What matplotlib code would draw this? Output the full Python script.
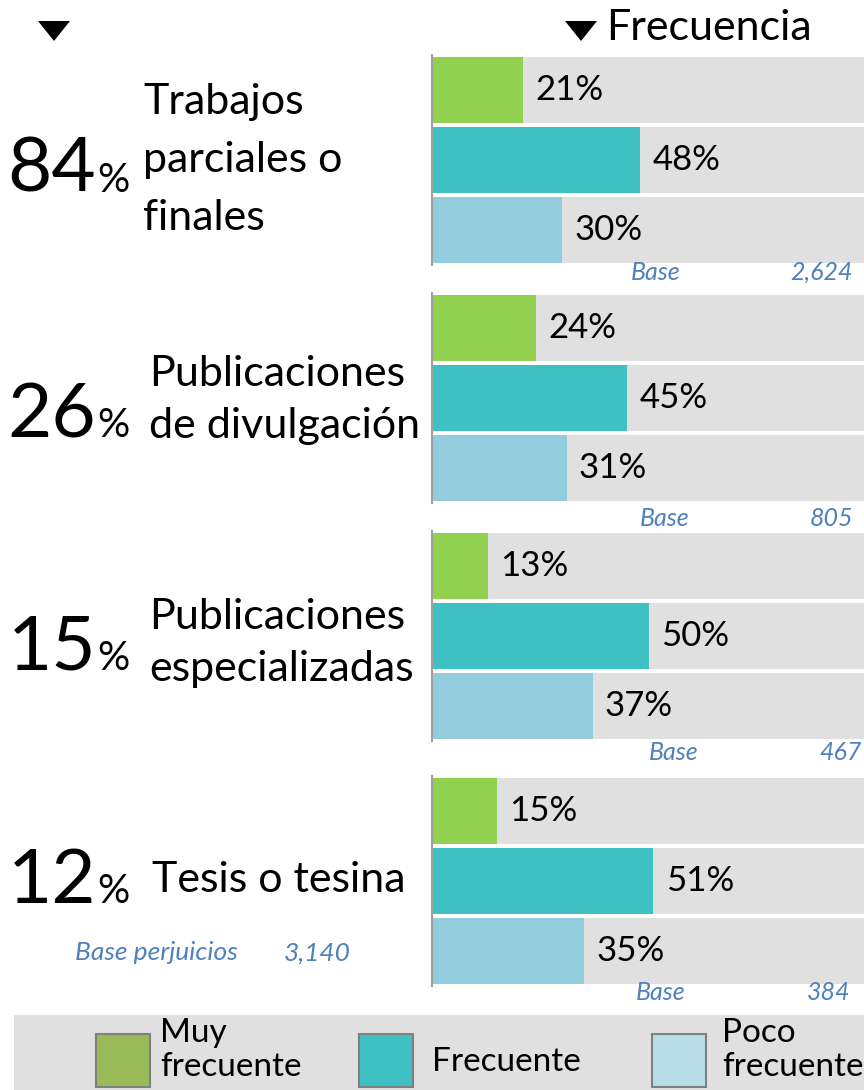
import numpy as np
import matplotlib.pyplot as plt
from matplotlib.patches import Rectangle, Polygon

plt.rcParams['font.family'] = ['Lato', 'DejaVu Sans']

# datos
categorias = [['Trabajos', 'parciales o', 'finales'],
              ['Publicaciones', 'de divulgación'],
              ['Publicaciones', 'especializadas'],
              ['Tesis o tesina']]
totales = [84, 26, 15, 12]
muy_frecuente = [21, 24, 13, 15]
frecuente = [48, 45, 50, 51]
poco_frecuente = [30, 31, 37, 35]
bases = ['2,624', '805', '467', '384']
base_perjuicios = '3,140'
series_nombres = ['Muy\nfrecuente', 'Frecuente', 'Poco\nfrecuente']

col_bar = ['#92d050', '#3fc0c2', '#93ccdd']
col_ley = ['#9bbb59', '#3fc0c2', '#b7dde8']
gris = '#e0e0e0'
azul = '#4f81bd'

W, H = 864, 1090
fig = plt.figure(figsize=(W / 100, H / 100), dpi=100)

def fx(x):
    return x / W

def fy(y):
    return 1 - y / H

# posiciones de los paneles (pixeles)
panel_top = [55, 293, 531, 776]
panel_h = 210
cat_y = [160, 400, 643, 880]
cat_x = [143, 149, 149, 152]
cat_ls = [1.65, 1.45, 1.45, 1.3]
num_base = [192, 437, 670, 903]
base_y = [272, 518, 753, 993]
base_x = [656, 665, 674, 661]
num_x = [853, 853, 862, 850]

for p in range(4):
    ax = fig.add_axes([fx(432), fy(panel_top[p] + panel_h), fx(432), panel_h / H])
    vals = [muy_frecuente[p], frecuente[p], poco_frecuente[p]]
    pos = np.arange(3)
    ax.barh(pos, [100] * 3, height=0.93, color=gris)
    ax.barh(pos, vals, height=0.93, color=col_bar)
    for i, v in enumerate(vals):
        ax.text(v + 2.8, i, f'{v}%', va='center', ha='left', fontsize=25)
    ax.set_xlim(0, 99.5)
    ax.set_ylim(2.5, -0.5)
    ax.set_xticks([])
    ax.set_yticks([])
    for s in ['top', 'right', 'bottom']:
        ax.spines[s].set_visible(False)
    ax.spines['left'].set_color('#a0a0a0')
    ax.spines['left'].set_linewidth(1.5)

    # textos de la izquierda
    fig.text(fx(96), fy(num_base[p]), str(totales[p]), ha='right', va='baseline', fontsize=55)
    fig.text(fx(97), fy(num_base[p]), '%', ha='left', va='baseline', fontsize=29)
    fig.text(fx(cat_x[p]), fy(cat_y[p]), '\n'.join(categorias[p]), ha='left', va='center',
             fontsize=31, linespacing=cat_ls[p])

    # base
    fig.text(fx(base_x[p]), fy(base_y[p]), 'Base', ha='center', va='center',
             fontsize=18, style='italic', color=azul)
    fig.text(fx(num_x[p]), fy(base_y[p]), bases[p], ha='right', va='center',
             fontsize=18, style='italic', color=azul)

fig.text(fx(75), fy(953), 'Base perjuicios', ha='left', va='center', fontsize=19,
         style='italic', color=azul)
fig.text(fx(351), fy(953), base_perjuicios, ha='right', va='center', fontsize=19,
         style='italic', color=azul)

# encabezado
for cx in [54, 581]:
    tri = [(fx(cx - 16), fy(21)), (fx(cx + 16), fy(21)), (fx(cx), fy(41))]
    fig.patches.append(Polygon(tri, closed=True, transform=fig.transFigure,
                               facecolor='black', edgecolor='none'))
fig.text(fx(606), fy(28), 'Frecuencia', ha='left', va='center', fontsize=31)

# leyenda
fig.patches.append(Rectangle((fx(14), 0), fx(W - 14), fy(1015), transform=fig.transFigure,
                             facecolor=gris, edgecolor='none', zorder=0))
ley_x = [96, 359, 652]
ley_tx = [160, 432, 722]
ley_ty = [1050, 1062, 1050]
for k in range(3):
    fig.patches.append(Rectangle((fx(ley_x[k]), fy(1087)), fx(54), 53 / H,
                                 transform=fig.transFigure, facecolor=col_ley[k],
                                 edgecolor='#808080', linewidth=1.5, zorder=1))
    fig.text(fx(ley_tx[k]), fy(ley_ty[k]), series_nombres[k], ha='left', va='center',
             fontsize=24, linespacing=1.15)

fig.savefig('out.png', dpi=100)
